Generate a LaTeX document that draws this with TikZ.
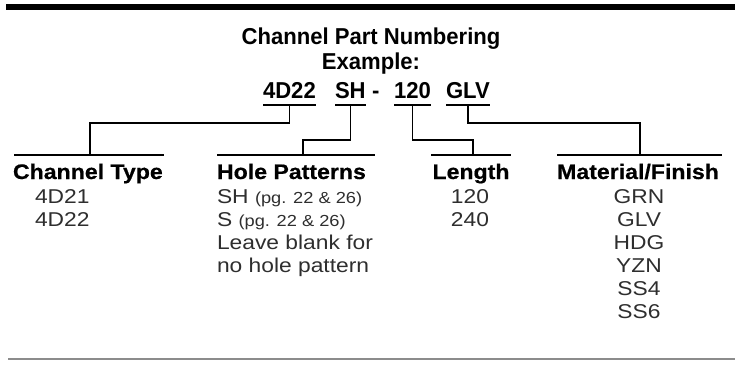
\documentclass[tikz,border=0pt]{standalone}
\usepackage{fontspec}
\setmainfont{Liberation Sans}
\newfontfamily\titlefam[FakeStretch=0.96]{Liberation Sans}
\newfontfamily\bodyfam[FakeStretch=1.14]{Liberation Sans}
\newfontfamily\headfam[FakeStretch=1.1,FakeBold=0.6]{Liberation Sans}
\newcommand\titlef{\titlefam\bfseries\fontsize{23}{26}\selectfont}
\newcommand\headf{\headfam\bfseries\fontsize{21}{24}\selectfont}
\newcommand\bodyf{\bodyfam\fontsize{20}{23}\selectfont}
\newcommand\smallf{\bodyfam\fontsize{16}{18}\selectfont}
\begin{document}
\begin{tikzpicture}[x=1pt,y=-1pt,
  txt/.style={inner sep=0pt, outer sep=0pt},
  ttl/.style={txt, font=\titlef},
  hdr/.style={txt, font=\headf},
  itm/.style={txt, font=\bodyf, text=black!82},
  ln/.style={line width=1.3pt},
  uline/.style={line width=1.5pt}]
\useasboundingbox (0,0) rectangle (735,366);
% top bar and bottom rule
\fill (6,4) rectangle (735,10);
\draw[line width=2pt, black!45] (8,359) -- (735,359);

% title
\node[ttl, anchor=base] (title) at (371,45) {Channel Part Numbering};
\node[ttl, anchor=base] (example) at (371,70) {Example:};
\node[ttl, anchor=base west] (p1) at (263,99) {4D22};
\node[ttl, anchor=base west] (p2) at (335,99) {SH};
\node[ttl, anchor=base west] (pd) at (372,99) {-};
\node[ttl, anchor=base west] (p3) at (394,99) {120};
\node[ttl, anchor=base west] (p4) at (446,99) {GLV};

% underlines
\foreach \p in {p1,p2,p3,p4}
  \draw[uline] ([yshift=-6pt]\p.base west) -- ([yshift=-6pt]\p.base east);

% header rules
\draw[ln] (14,155) -- (164,155);
\draw[ln] (217,155) -- (375,155);
\draw[ln] (431,155) -- (511,155);
\draw[ln] (557,155) -- (722,155);

% connector ends
\coordinate (c1) at (90,155);
\coordinate (c2) at (303,155);
\coordinate (c3) at (473,155);
\coordinate (c4) at (640,155);

\draw[ln] ([yshift=-6pt]p1.base) -- ++(0,18) -| (c1);
\draw[ln] ([yshift=-6pt]p2.base) -- ++(0,35) -| (c2);
\draw[ln] ([yshift=-6pt]p3.base) -- ++(0,35) -| (c3);
\draw[ln] ([yshift=-6pt]p4.base) -- ++(0,18) -| (c4);

% headers
\node[hdr, anchor=base west] (hct) at (13,179) {Channel Type};
\node[hdr, anchor=base west] (hhp) at (217,179) {Hole Patterns};
\node[hdr, anchor=base] (hlen) at (471,179) {Length};
\node[hdr, anchor=base] (hmat) at (638,179) {Material/Finish};

% Channel type items
\node[itm, anchor=base west] (ct1) at (35,203) {4D21};
\node[itm, anchor=base west] (ct2) at (35,226) {4D22};

% Hole patterns
\node[itm, anchor=base west] (hp1) at (217,203) {SH {\smallf(pg. 22 \& 26)}};
\node[itm, anchor=base west] (hp2) at (217,226) {S {\smallf(pg. 22 \& 26)}};
\node[itm, anchor=base west] (hp3) at (217,249) {Leave blank for};
\node[itm, anchor=base west] (hp4) at (217,272) {no hole pattern};

% Length
\node[itm, anchor=base] (l1) at (470,203) {120};
\node[itm, anchor=base] (l2) at (470,226) {240};

% Material
\node[itm, anchor=base] (m1) at (639,203) {GRN};
\node[itm, anchor=base] (m2) at (639,226) {GLV};
\node[itm, anchor=base] (m3) at (639,249) {HDG};
\node[itm, anchor=base] (m4) at (639,272) {YZN};
\node[itm, anchor=base] (m5) at (639,295) {SS4};
\node[itm, anchor=base] (m6) at (639,318) {SS6};
\end{tikzpicture}
\end{document}
